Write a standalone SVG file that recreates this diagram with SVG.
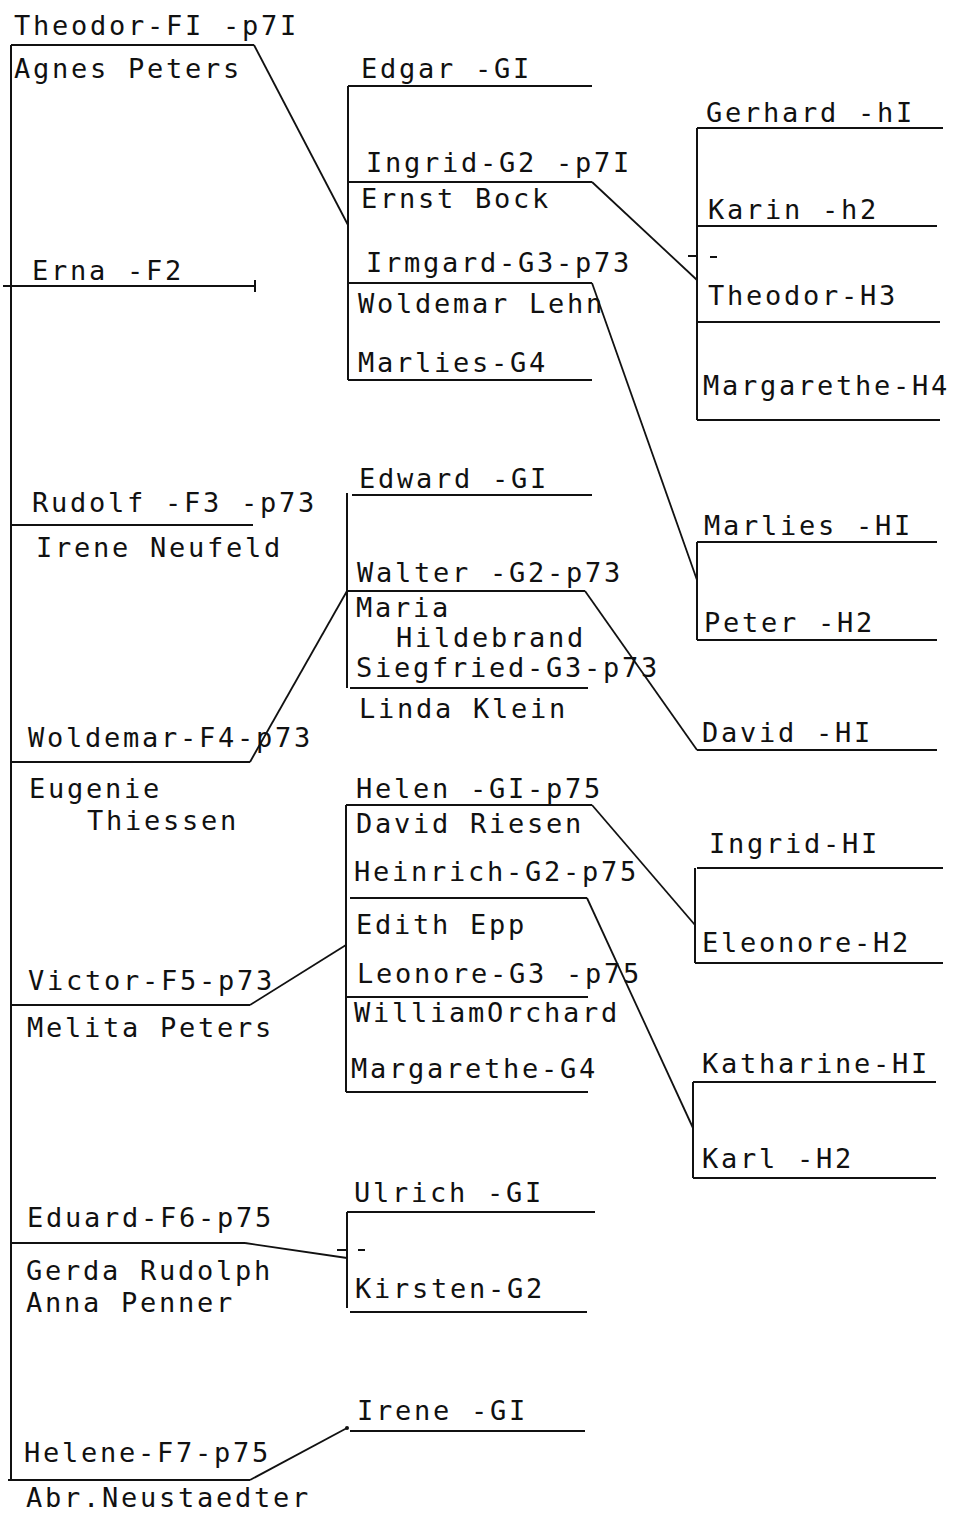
<svg xmlns="http://www.w3.org/2000/svg" width="958" height="1513" viewBox="0 0 958 1513">
<style>
text{font-family:"DejaVu Sans Mono","Liberation Mono",monospace;font-size:27px;letter-spacing:2.75px;fill:#111}
line,polyline{stroke:#111;stroke-width:2;fill:none}
.c{stroke-width:1.8}
</style>
<rect width="958" height="1513" fill="#fff"/>
<g id="spine"><line x1="11" y1="45" x2="11" y2="1480"/></g>
<g id="F1"><text x="14" y="35">Theodor-FI -p7I</text><line x1="11" y1="45" x2="254" y2="45"/><text x="14" y="78">Agnes Peters</text></g>
<g id="F2"><text x="32" y="280">Erna -F2</text><line x1="3" y1="286" x2="255" y2="286"/><line x1="255" y1="280" x2="255" y2="292"/></g>
<g id="F3"><text x="32" y="512">Rudolf -F3 -p73</text><line x1="11" y1="525" x2="253" y2="525"/><text x="36" y="557">Irene Neufeld</text></g>
<g id="F4"><text x="28" y="747">Woldemar-F4-p73</text><line x1="11" y1="762" x2="250" y2="762"/><text x="29" y="798">Eugenie</text><text x="87" y="830">Thiessen</text></g>
<g id="F5"><text x="28" y="990">Victor-F5-p73</text><line x1="11" y1="1005" x2="250" y2="1005"/><text x="27" y="1037">Melita Peters</text></g>
<g id="F6"><text x="27" y="1227">Eduard-F6-p75</text><line x1="11" y1="1243" x2="245" y2="1243"/><text x="26" y="1280">Gerda Rudolph</text><text x="26" y="1312">Anna Penner</text></g>
<g id="F7"><text x="24" y="1462">Helene-F7-p75</text><line x1="8" y1="1480" x2="250" y2="1480"/><text x="26" y="1507">Abr.Neustaedter</text></g>

<g id="G-Edgar">
<line x1="348" y1="86" x2="348" y2="380"/>
<line x1="348" y1="86" x2="592" y2="86"/><line x1="348" y1="182" x2="592" y2="182"/><line x1="348" y1="283" x2="592" y2="283"/><line x1="348" y1="380" x2="592" y2="380"/>
<text x="361" y="78">Edgar -GI</text><text x="366" y="172">Ingrid-G2 -p7I</text><text x="361" y="208">Ernst Bock</text><text x="366" y="272">Irmgard-G3-p73</text><text x="358" y="313">Woldemar Lehn</text><text x="358" y="372">Marlies-G4</text>
</g>
<g id="H-Gerhard">
<line x1="697" y1="128" x2="697" y2="420"/>
<line x1="697" y1="128" x2="943" y2="128"/><line x1="697" y1="226" x2="937" y2="226"/><line x1="697" y1="322" x2="940" y2="322"/><line x1="697" y1="420" x2="940" y2="420"/>
<line x1="688" y1="256" x2="697" y2="256"/><line x1="710" y1="257" x2="717" y2="257"/>
<text x="706" y="122">Gerhard -hI</text><text x="708" y="219">Karin -h2</text><text x="708" y="305">Theodor-H3</text><text x="703" y="395">Margarethe-H4</text>
</g>
<g id="H-Marlies">
<line x1="697" y1="542" x2="697" y2="640"/><line x1="697" y1="542" x2="937" y2="542"/><line x1="697" y1="640" x2="937" y2="640"/>
<text x="704" y="535">Marlies -HI</text><text x="704" y="632">Peter -H2</text>
</g>
<g id="H-David"><line x1="697" y1="750" x2="937" y2="750"/><text x="702" y="742">David -HI</text></g>
<g id="G-Edward">
<line x1="347" y1="493" x2="347" y2="688"/>
<line x1="352" y1="495" x2="592" y2="495"/><line x1="347" y1="591" x2="585" y2="591"/><line x1="350" y1="688" x2="588" y2="688"/>
<text x="359" y="488">Edward -GI</text><text x="357" y="582">Walter -G2-p73</text><text x="356" y="617">Maria</text><text x="396" y="647">Hildebrand</text><text x="356" y="677">Siegfried-G3-p73</text><text x="359" y="718">Linda Klein</text>
</g>
<g id="G-Helen">
<line x1="346" y1="805" x2="346" y2="1092"/>
<line x1="346" y1="805" x2="592" y2="805"/><line x1="350" y1="898" x2="587" y2="898"/><line x1="346" y1="997" x2="588" y2="997"/><line x1="346" y1="1092" x2="588" y2="1092"/>
<text x="356" y="798">Helen -GI-p75</text><text x="356" y="833">David Riesen</text><text x="354" y="881">Heinrich-G2-p75</text><text x="356" y="934">Edith Epp</text><text x="357" y="983">Leonore-G3 -p75</text><text x="354" y="1022">WilliamOrchard</text><text x="351" y="1078">Margarethe-G4</text>
</g>
<g id="H-Ingrid">
<line x1="695" y1="868" x2="695" y2="963"/><line x1="697" y1="868" x2="943" y2="868"/><line x1="695" y1="963" x2="943" y2="963"/>
<text x="709" y="853">Ingrid-HI</text><text x="702" y="952">Eleonore-H2</text>
</g>
<g id="H-Katharine">
<line x1="693" y1="1082" x2="693" y2="1178"/><line x1="693" y1="1082" x2="936" y2="1082"/><line x1="693" y1="1178" x2="936" y2="1178"/>
<text x="702" y="1073">Katharine-HI</text><text x="702" y="1168">Karl -H2</text>
</g>
<g id="G-Ulrich">
<line x1="347" y1="1212" x2="347" y2="1308"/><line x1="347" y1="1212" x2="595" y2="1212"/><line x1="350" y1="1312" x2="587" y2="1312"/>
<line x1="337" y1="1250" x2="347" y2="1250"/><line x1="358" y1="1250" x2="365" y2="1250"/>
<text x="354" y="1202">Ulrich -GI</text><text x="355" y="1298">Kirsten-G2</text>
</g>
<g id="G-Irene"><line x1="350" y1="1431" x2="585" y2="1431"/><text x="357" y="1420">Irene -GI</text></g>

<g id="connectors">
<line class="c" x1="254" y1="45" x2="348" y2="225"/>
<line class="c" x1="592" y1="182" x2="697" y2="280"/>
<line class="c" x1="592" y1="283" x2="697" y2="580"/>
<line class="c" x1="250" y1="762" x2="347" y2="591"/>
<line class="c" x1="585" y1="591" x2="697" y2="750"/>
<line class="c" x1="250" y1="1005" x2="346" y2="945"/>
<line class="c" x1="592" y1="805" x2="695" y2="925"/>
<line class="c" x1="587" y1="898" x2="693" y2="1128"/>
<line class="c" x1="245" y1="1243" x2="347" y2="1258"/>
<line class="c" x1="250" y1="1480" x2="347" y2="1428"/>
<circle cx="347" cy="1428" r="2" fill="#111"/>
</g>
</svg>
